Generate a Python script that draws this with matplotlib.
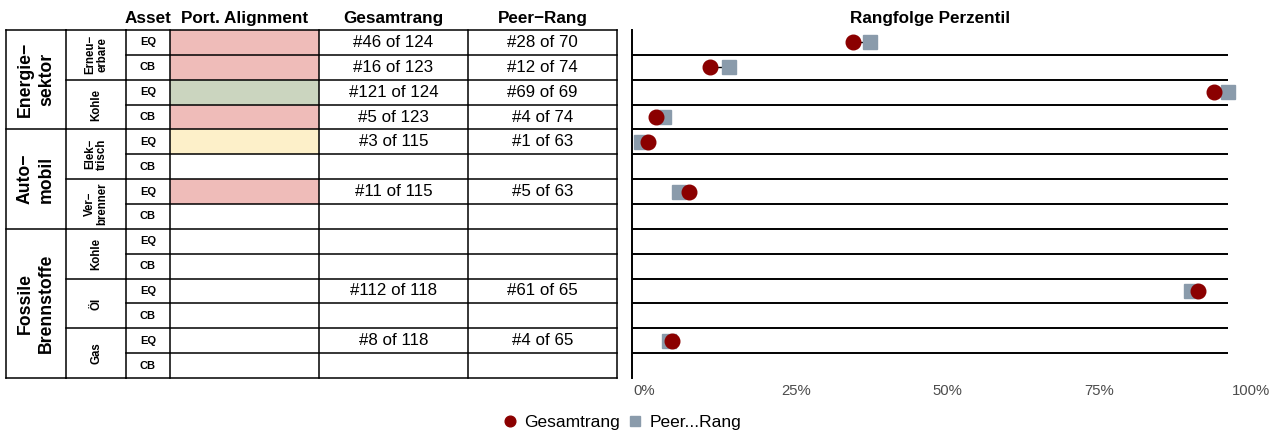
import matplotlib
matplotlib.use("Agg")
import matplotlib.pyplot as plt
from matplotlib.patches import Rectangle
from matplotlib.lines import Line2D

plt.rcParams['font.family'] = ['Liberation Sans', 'DejaVu Sans']

# ---------------- data ----------------
sectors = ["Energie\u2212\nsektor", "Auto\u2212\nmobil", "Fossile\nBrennstoffe"]
sector_rows = [4, 4, 6]
subsectors = ["Erneu\u2212\nerbare", "Kohle", "Elek\u2212\ntrisch", "Ver\u2212\nbrenner",
              "Kohle", "\u00d6l", "Gas"]
assets = ["EQ", "CB"] * 7
alignment = ["red", "red", "green", "red", "yellow", "none", "red",
             "none", "none", "none", "none", "none", "none", "none"]
gesamt_rank = [46, 16, 121, 5, 3, None, 11, None, None, None, 112, None, 8, None]
gesamt_total = [124, 123, 124, 123, 115, None, 115, None, None, None, 118, None, 118, None]
peer_rank = [28, 12, 69, 4, 1, None, 5, None, None, None, 61, None, 4, None]
peer_total = [70, 74, 69, 74, 63, None, 63, None, None, None, 65, None, 65, None]
headers = ["Asset", "Port. Alignment", "Gesamtrang", "Peer\u2212Rang"]
x_ticks = [0, 0.25, 0.5, 0.75, 1.0]
x_ticklabels = ["0%", "25%", "50%", "75%", "100%"]

# ---------------- style ----------------
align_colors = {"red": "#EFBCB9", "green": "#CBD5BF", "yellow": "#FDF0C9", "none": "white"}
c_ges = "#8B0000"
c_peer = "#8A9BAB"
W, H = 1285, 430
col_w = [60, 60, 44, 149, 149, 149]
n = len(assets)

fig = plt.figure(figsize=(W / 100, H / 100), dpi=100)

def box(l, t, r, b):
    return [l / W, (H - b) / H, (r - l) / W, (b - t) / H]

# ---------------- table ----------------
tab = fig.add_axes(box(6, 30, 617, 378))
tab.set_xlim(0, sum(col_w))
tab.set_ylim(n, 0)
tab.axis("off")
edges = [0]
for w in col_w:
    edges.append(edges[-1] + w)

for i, a in enumerate(alignment):
    tab.add_patch(Rectangle((edges[3], i), col_w[3], 1, facecolor=align_colors[a],
                            edgecolor="none", zorder=1))

lw = 1.1
kw = dict(color="black", lw=lw, solid_capstyle="projecting", zorder=3, clip_on=False)
for e in edges:
    tab.plot([e, e], [0, n], **kw)
b = 0
tab.plot([edges[0], edges[1]], [0, 0], **kw)
for k in sector_rows:
    b += k
    tab.plot([edges[0], edges[1]], [b, b], **kw)
for r in range(0, n + 1, 2):
    tab.plot([edges[1], edges[2]], [r, r], **kw)
for r in range(0, n + 1):
    tab.plot([edges[2], edges[6]], [r, r], **kw)

start = 0
for s, k in zip(sectors, sector_rows):
    tab.text((edges[0] + edges[1]) / 2, start + k / 2, s, rotation=90, ha="center",
             va="center", fontsize=12.7, fontweight="bold", linespacing=1.32,
             multialignment="center")
    start += k
for j, s in enumerate(subsectors):
    tab.text((edges[1] + edges[2]) / 2, 2 * j + 1, s, rotation=90, ha="center",
             va="center", fontsize=8.3, fontweight="bold", linespacing=1.05,
             multialignment="center")
for i, a in enumerate(assets):
    tab.text((edges[2] + edges[3]) / 2, i + 0.5, a, ha="center", va="center",
             fontsize=8, fontweight="bold")
    if gesamt_rank[i] is not None:
        tab.text((edges[4] + edges[5]) / 2, i + 0.5, f"#{gesamt_rank[i]} of {gesamt_total[i]}",
                 ha="center", va="center", fontsize=12.2)
    if peer_rank[i] is not None:
        tab.text((edges[5] + edges[6]) / 2, i + 0.5, f"#{peer_rank[i]} of {peer_total[i]}",
                 ha="center", va="center", fontsize=12.2)
for h, c in zip(headers, [2, 3, 4, 5]):
    tab.text((edges[c] + edges[c + 1]) / 2, -0.48, h, ha="center", va="center",
             fontsize=12.3, fontweight="bold", clip_on=False)

# ---------------- dumbbell chart ----------------
ax = fig.add_axes(box(632, 30, 1228, 378))
ax.set_xlim(0, 1)
ax.set_ylim(n, 0)
for sp in ["top", "right", "bottom"]:
    ax.spines[sp].set_visible(False)
ax.spines["left"].set_linewidth(1.4)
ax.set_xticks([])
ax.set_yticks([])
for r in range(1, n):
    ax.axhline(r, color="black", lw=1.4, zorder=1)
for i in range(n):
    if gesamt_rank[i] is None:
        continue
    g = gesamt_rank[i] / gesamt_total[i]
    p = peer_rank[i] / peer_total[i]
    y = i + 0.5
    ax.plot([g, p], [y, y], color="black", lw=1.0, zorder=2, clip_on=False)
    ax.plot([p], [y], marker="s", ms=10, color=c_peer, ls="none", zorder=3, clip_on=False)
    ax.plot([g], [y], marker="o", ms=10.5, color=c_ges, ls="none", zorder=4, clip_on=False)
ax.text(0.5, -0.48, "Rangfolge Perzentil", ha="center", va="center", fontsize=12.3,
        fontweight="bold", transform=ax.transData, clip_on=False)

# tick labels axis
tx = fig.add_axes(box(644, 30, 1251, 378))
tx.set_xlim(0, 1)
tx.patch.set_visible(False)
for sp in tx.spines.values():
    sp.set_visible(False)
tx.set_yticks([])
tx.set_xticks(x_ticks)
tx.set_xticklabels(x_ticklabels, fontsize=10.7, color="#4D4D4D")
tx.tick_params(axis="x", length=0, pad=4)

# legend
handles = [Line2D([], [], marker="o", ls="none", color=c_ges, ms=7.7, label="Gesamtrang"),
           Line2D([], [], marker="s", ls="none", color=c_peer, ms=7.2, label="Peer...Rang")]
fig.legend(handles=handles, loc="center", bbox_to_anchor=(622 / W, (H - 422) / H), ncol=2,
           frameon=False, fontsize=12.5, handlelength=0.8, handletextpad=0.4,
           columnspacing=0.5, borderpad=0)

fig.savefig("out.png", dpi=100)
